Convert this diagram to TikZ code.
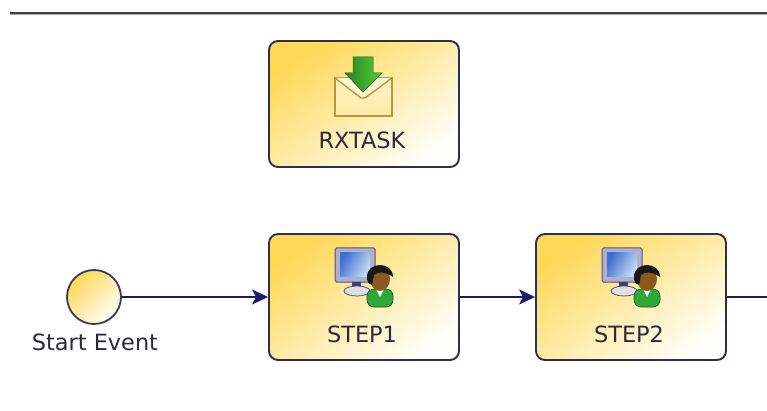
\documentclass[tikz,border=0pt]{standalone}
\usepackage{fontspec}
\setmainfont{DejaVu Sans}
\usetikzlibrary{arrows.meta,shadings}
\definecolor{edgeblue}{HTML}{1B1B70}
\definecolor{boxline}{HTML}{2C3050}
\definecolor{goldA}{HTML}{FFD857}
\definecolor{goldB}{HTML}{FFEBA8}
\definecolor{goldC}{HTML}{FFFEF8}
\definecolor{textc}{HTML}{2A2A3A}
\definecolor{mailline}{HTML}{B8963C}
\definecolor{monline}{HTML}{50508A}
\definecolor{screenA}{HTML}{3F6FD0}
\definecolor{screenB}{HTML}{C4DBF5}
\definecolor{arrowA}{HTML}{1F8A1F}
\definecolor{arrowB}{HTML}{5CC83A}
\definecolor{shirt}{HTML}{2FA83A}
\definecolor{skin}{HTML}{8A5A1E}
\tikzset{
  x=1pt,y=-1pt,
  every node/.style={font=\fontsize{22.4}{26}\selectfont,text=textc,inner sep=0pt},
  taskbox/.style={draw=boxline,line width=1.9pt,rounded corners=9pt,minimum width=190pt,minimum height=126pt,
    left color=goldA,middle color=goldB,right color=goldC,shading angle=35},
  startbox/.style={circle,draw=boxline!85!gray,line width=1.8pt,minimum size=54pt,
    left color=goldA,middle color=goldB,right color=goldC,shading angle=45},
  flow/.style={draw=edgeblue,line width=1.7pt,-{Stealth[length=16pt,width=15pt,inset=4pt]}},
  flowplain/.style={draw=edgeblue,line width=1.7pt},
  pics/mailicon/.style={code={
    \draw[draw=mailline,line width=1.5pt,top color=goldB!70!white,bottom color=goldB] (-29,-26) rectangle (28,12);
    \draw[draw=mailline,line width=1.4pt,fill=goldB!50!white] (-29,-26) -- (-3,-6) -- (1,-6) -- (28,-26);
    \shade[left color=arrowA,right color=arrowB,shading angle=90,draw=arrowA!70!black,line width=.5pt]
      (-11,-47) -- (9,-47) -- (9,-31) -- (18,-31) -- (-1,-12) -- (-19,-31) -- (-11,-31) -- cycle;
  }},
  pics/usericon/.style={code={
    \draw[draw=monline,line width=1pt,fill=monline!45!white,rounded corners=1.5pt] (-29,-49) rectangle (11,-15);
    \shade[left color=screenA,right color=screenB,shading angle=60,draw=none] (-24,-44) rectangle (6,-21);
    \fill[monline!80!black] (-12,-15) rectangle (-3,-9);
    \draw[draw=monline,line width=.8pt,fill=black!12] (-7,-6) ellipse (13 and 5);
    \draw[draw=shirt!50!black,line width=.6pt,fill=shirt,rounded corners=7pt] (3,10) -- (3,-8) -- (29,-8) -- (29,10) -- cycle;
    \fill[white] (12,-8) -- (20,-8) -- (16,0) -- cycle;
    \fill[skin] (16,-18) ellipse (10 and 12);
    \fill[black!90] (3,-20) .. controls (3,-36) and (29,-36) .. (29,-20) .. controls (22,-25) and (14,-26) .. (10,-22) -- (8,-12) .. controls (4,-13) and (3,-16) .. (3,-20) -- cycle;
  }}
}
\begin{document}
\begin{tikzpicture}
\useasboundingbox (0,0) rectangle (767,411);
\coordinate (ruleL) at (10,13);
\coordinate (ruleR) at (767,13);
\draw[line width=2pt,black!75] (ruleL) -- (ruleR);
\draw[line width=.8pt,black!35] ([yshift=-1.4pt]ruleL) -- ([yshift=-1.4pt]ruleR);

\node[taskbox] (rx) at (364,104) {};
\pic at (rx.center) {mailicon};
\node (rxl) at (362,140) {RXTASK};

\node[startbox] (start) at (94,297) {};
\node (startl) at (95,342) {Start Event};

\node[taskbox] (s1) at (364,297) {};
\pic at (s1.center) {usericon};
\node (s1l) at (362,334) {STEP1};

\node[taskbox] (s2) at (631,297) {};
\pic at (s2.center) {usericon};
\node (s2l) at (629,334) {STEP2};

\coordinate (off) at (767,297);
\draw[flow] (start) -- (s1);
\draw[flow] (s1) -- (s2);
\draw[flowplain] (s2) -- (off);
\end{tikzpicture}
\end{document}
